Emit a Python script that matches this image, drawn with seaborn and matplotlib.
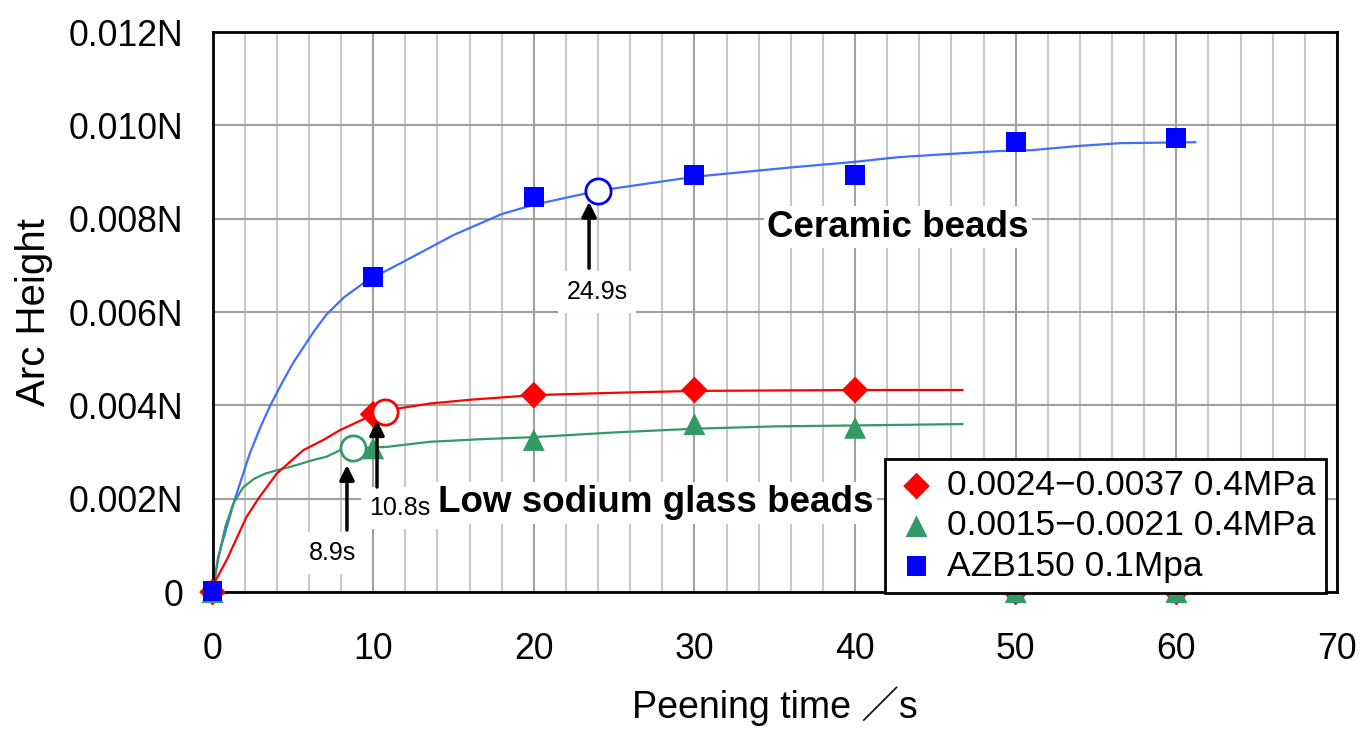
import matplotlib
matplotlib.use('Agg')
import matplotlib.pyplot as plt
import seaborn as sns

# measured curves, time (s) and arc height (N)
red_t = [0, 0.2, 0.9, 1.5, 2.1, 2.85, 4.0, 5.65, 6.9, 7.94, 9.49, 10.74, 11.67, 13.54,
         16, 20, 25, 30, 35, 40, 46.7]
red_h = [0, 0.00025, 0.0007, 0.00115, 0.0016, 0.0020, 0.00254, 0.00304, 0.00326, 0.00347,
         0.00372, 0.00386, 0.00394, 0.00404, 0.00412, 0.00422, 0.00427, 0.00431, 0.00432,
         0.00433, 0.00433]

green_t = [0, 0.35, 0.8, 1.3, 1.9, 2.6, 3.3, 4.0, 4.82, 6.28, 7.1, 7.94, 8.75, 10.84, 13.54,
           17, 20, 25, 30, 35, 40, 46.7]
green_h = [0, 0.0007, 0.0014, 0.0019, 0.00224, 0.00243, 0.00254, 0.00261, 0.00268, 0.00283,
           0.0029, 0.00304, 0.00308, 0.00311, 0.00322, 0.00328, 0.00332, 0.00342, 0.0035,
           0.00355, 0.00357, 0.0036]

blue_t = [0, 0.35, 1.4, 2.3, 3.0, 3.6, 4.2, 5, 6.3, 7.1, 8.2, 9.4, 10, 12, 15, 18, 20, 22, 24,
          27, 30, 33, 36, 40, 42.7, 45, 48.9, 51, 53.9, 56.5, 61.2]
blue_h = [0, 0.00075, 0.002, 0.00295, 0.00355, 0.004, 0.0044, 0.0049, 0.00558, 0.00595,
          0.00632, 0.00662, 0.00674, 0.0071, 0.00765, 0.0081, 0.0083, 0.00845, 0.0086,
          0.00875, 0.0089, 0.009, 0.0091, 0.00922, 0.00932, 0.00937, 0.00945, 0.00947,
          0.00956, 0.00962, 0.00964]

# sampled points
sample_t = [0, 10, 20, 30, 40, 50, 60]
red_pts = [0, 0.00381, 0.00422, 0.00433, 0.00433, 0, 0]
green_pts = [0, 0.00308, 0.00326, 0.0036, 0.00352, 0, 0]
blue_pts = [0.00002, 0.00675, 0.00846, 0.00893, 0.00893, 0.00964, 0.00973]

labels = ['0.0024−0.0037 0.4MPa', '0.0015−0.0021 0.4MPa', 'AZB150 0.1Mpa']

# saturation points (open circles)
sat_t = [10.74, 8.75, 24.0]
sat_h = [0.00386, 0.003085, 0.0086]
sat_text = ['10.8s', '8.9s', '24.9s']

yticks = [0, 0.002, 0.004, 0.006, 0.008, 0.010, 0.012]
ytick_labels = ['0', '0.002N', '0.004N', '0.006N', '0.008N', '0.010N', '0.012N']

sns.set_style('white')
plt.rcParams['font.family'] = ['Liberation Sans', 'Noto Sans CJK JP', 'DejaVu Sans']
plt.rcParams.update({'text.color': 'black', 'axes.labelcolor': 'black',
                     'xtick.color': 'black', 'ytick.color': 'black'})

fig, ax = plt.subplots(figsize=(13.64, 7.30), dpi=100)
fig.subplots_adjust(left=0.1558, right=0.9802, bottom=0.189, top=0.956)
ax.set_axisbelow(True)

red = '#ff0000'
green = '#339966'
blue = '#0000ff'

sns.lineplot(x=blue_t, y=blue_h, color='#3f6fff', lw=1.6, sort=False, estimator=None, ax=ax)
sns.lineplot(x=green_t, y=green_h, color=green, lw=1.6, sort=False, estimator=None, ax=ax)
sns.lineplot(x=red_t, y=red_h, color=red, lw=1.6, sort=False, estimator=None, ax=ax)

sns.scatterplot(x=sample_t, y=red_pts, marker='D', s=185, color=red, edgecolor='none',
                label=labels[0], clip_on=False, zorder=3, ax=ax)
sns.scatterplot(x=sample_t, y=green_pts, marker='^', s=250, color=green, edgecolor='none',
                label=labels[1], clip_on=False, zorder=3, ax=ax)
sns.scatterplot(x=sample_t, y=blue_pts, marker='s', s=205, color=blue, edgecolor='none',
                label=labels[2], clip_on=False, zorder=3, ax=ax)

# open circles
for t, h, c in zip(sat_t, sat_h, [red, green, blue]):
    sns.scatterplot(x=[t], y=[h], s=330, color='white', edgecolor=c, linewidth=2,
                    zorder=4, legend=False, ax=ax)

# arrows + labels
arrow_x = [10.24, 8.37, 23.44]
arrow_tip = [0.00368, 0.00272, 0.00836]
arrow_tail = [0.00225, 0.00133, 0.00694]
text_pos = [(11.67, 0.0018), (7.5, 0.00084), (23.93, 0.00643)]
for i in range(3):
    ax.text(text_pos[i][0], text_pos[i][1], sat_text[i], fontsize=18, ha='center', va='center',
            zorder=5, bbox=dict(boxstyle='square,pad=0.35', facecolor='white', edgecolor='none'))
    ax.annotate('', xy=(arrow_x[i], arrow_tip[i]), xytext=(arrow_x[i], arrow_tail[i]),
                arrowprops=dict(arrowstyle='-|>', color='black', lw=2.5, mutation_scale=22,
                                shrinkA=0, shrinkB=0), zorder=6)

ax.text(42.67, 0.00782, 'Ceramic beads', fontsize=26.5, fontweight='bold', ha='center',
        va='center', zorder=5,
        bbox=dict(boxstyle='square,pad=0.1', facecolor='white', edgecolor='none'))
ax.text(27.6, 0.00191, 'Low sodium glass beads', fontsize=26.5, fontweight='bold', ha='center',
        va='center', zorder=5,
        bbox=dict(boxstyle='square,pad=0.1', facecolor='white', edgecolor='none'))

ax.set_xlim(0, 70)
ax.set_ylim(0, 0.012)
ax.set_xticks(range(0, 71, 10))
ax.set_xticks(range(0, 71, 2), minor=True)
ax.set_yticks(yticks)
ax.set_yticklabels(ytick_labels)

ax.grid(which='minor', axis='x', color='#c8c8c8', lw=1.5)
ax.grid(which='major', axis='x', color='#a0a0a0', lw=1.5)
ax.grid(which='major', axis='y', color='#a0a0a0', lw=1.5)

ax.tick_params(axis='both', which='major', direction='in', length=11, width=2,
               color='black', labelsize=25.7, labelcolor='black')
ax.tick_params(axis='x', which='major', pad=29)
ax.tick_params(axis='y', which='major', pad=21)
ax.tick_params(axis='x', which='minor', length=0)
for sp in ax.spines.values():
    sp.set_color('black')
    sp.set_linewidth(2)
    sp.set_visible(True)

ax.set_xlabel('Peening time ／s', fontsize=27, labelpad=14, color='black')
ax.set_ylabel('Arc Height', fontsize=29, labelpad=11, color='black')

leg = ax.legend(loc='lower right', bbox_to_anchor=(0.99, -0.002), fontsize=25.5, frameon=True,
                fancybox=False, edgecolor='black', framealpha=1, borderpad=0.3,
                labelspacing=0.2, handletextpad=0.25, handlelength=1.2, borderaxespad=0)
leg.get_frame().set_linewidth(2)
leg.set_zorder(10)
for txt in leg.get_texts():
    txt.set_color('black')

fig.savefig('out.png', dpi=100)
